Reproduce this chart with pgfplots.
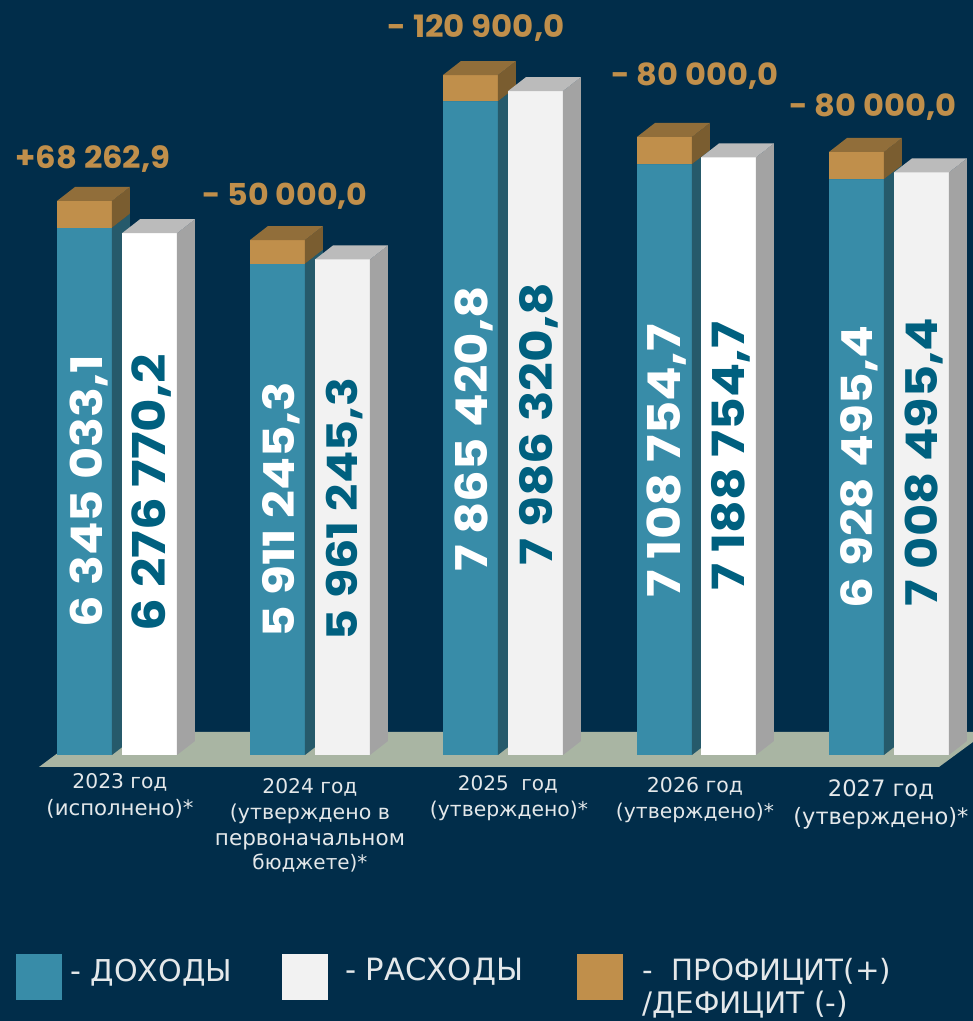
\documentclass[border=0pt]{standalone}
\usepackage{fontspec}
\usepackage{graphicx}
\setmainfont{DejaVu Sans}
\newfontfamily\pop{Poppins}
\usepackage{pgfplots}
\pgfplotsset{compat=1.18}
\definecolor{bg}{HTML}{012D4A}
\definecolor{rev}{HTML}{388CA8}
\definecolor{revs}{HTML}{265A6B}
\definecolor{capf}{HTML}{C08F4B}
\definecolor{capt}{HTML}{916E3A}
\definecolor{caps}{HTML}{7A5D30}
\definecolor{exps}{HTML}{A3A3A3}
\definecolor{expt}{HTML}{BBBBBB}
\definecolor{expf}{HTML}{F2F2F2}
\definecolor{floorc}{HTML}{A9B5A3}
\definecolor{tealt}{HTML}{00607F}
\definecolor{lab}{HTML}{E4E8EA}
\newcommand\cuboid[6]{%
  \addplot[fill=#4,draw=none] coordinates {(#1,#2) (#1+55,#2) (#1+55,#3) (#1,#3)} -- cycle;
  \addplot[fill=#5,draw=none] coordinates {(#1+55,#2) (#1+73,#2+168.42) (#1+73,#3+168.42) (#1+55,#3)} -- cycle;
  \addplot[fill=#6,draw=none] coordinates {(#1,#3) (#1+55,#3) (#1+73,#3+168.42) (#1+18,#3+168.42)} -- cycle;
}
\newcommand\Py[1]{{(755-(#1))*12.03}}
\newcommand\V[5]{\node[rotate=90,inner sep=0pt,text=#4] at (axis cs:#1+2,\Py{#2}) {\scalebox{1}[.88]{\resizebox{#3pt}{!}{\pop\bfseries #5}}};}
\newcommand\G[4]{\node[inner sep=0pt,text=capf] at (axis cs:#1,\Py{#2+2}) {\scalebox{1}[.95]{\resizebox{#3pt}{!}{\pop\bfseries #4}}};}
\newcommand\T[4]{\node[inner sep=0pt,text=lab] at (axis cs:#1,\Py{#2+3}) {\resizebox{#3pt}{!}{\strut #4}};}
\newcommand\TL[4]{\node[inner sep=0pt,anchor=west,text=lab] at (axis cs:#1,\Py{#2+3}) {\resizebox{#3pt}{!}{\strut #4}};}
\begin{document}
\begin{tikzpicture}
\begin{axis}[
  scale only axis,width=973pt,height=1021pt,
  xmin=0,xmax=973,ymin=-3200,ymax=9082.65,
  ticks=none,axis line style={draw=none},
  axis background/.style={fill=bg},
]
% floor
\addplot[fill=floorc,draw=none] coordinates {(39,-144.36) (86,276.69) (973,276.69) (973,156.39) (939,-144.36)} -- cycle;
% 2023
\cuboid{57}{0}{6345.0331}{rev}{revs}{revs}
\cuboid{57}{6345.0331}{6665}{capf}{caps}{capt}
\cuboid{122}{0}{6276.7702}{white}{exps}{expt}
% 2024
\cuboid{250}{0}{5911.2453}{rev}{revs}{revs}
\cuboid{250}{5911.2453}{6195}{capf}{caps}{capt}
\cuboid{315}{0}{5961.2453}{expf}{exps}{expt}
% 2025
\cuboid{443}{0}{7865.4208}{rev}{revs}{revs}
\cuboid{443}{7865.4208}{8180}{capf}{caps}{capt}
\cuboid{508}{0}{7986.3208}{expf}{exps}{expt}
% 2026
\cuboid{637}{0}{7108.7547}{rev}{revs}{revs}
\cuboid{637}{7108.7547}{7435}{capf}{caps}{capt}
\cuboid{701}{0}{7188.7547}{white}{exps}{expt}
% 2027
\cuboid{829}{0}{6928.4954}{rev}{revs}{revs}
\cuboid{829}{6928.4954}{7254}{capf}{caps}{capt}
\cuboid{894}{0}{7008.4954}{expf}{exps}{expt}
% legend swatches
\addplot[fill=rev,draw=none] coordinates {(16,-2394) (62,-2394) (62,-2947) (16,-2947)} -- cycle;
\addplot[fill=expf,draw=none] coordinates {(282,-2394) (328,-2394) (328,-2947) (282,-2947)} -- cycle;
\addplot[fill=capf,draw=none] coordinates {(577,-2394) (623,-2394) (623,-2947) (577,-2947)} -- cycle;
% value labels
\V{87}{491}{273}{white}{6 345 033,1}
\V{150}{493}{277}{tealt}{6 276 770,2}
\V{279}{510}{255}{white}{5 911 245,3}
\V{343}{509}{262}{tealt}{5 961 245,3}
\V{472}{429}{285}{white}{7 865 420,8}
\V{537}{424}{283}{tealt}{7 986 320,8}
\V{665}{461}{273}{white}{7 108 754,7}
\V{729}{456}{268}{tealt}{7 188 754,7}
\V{857}{467}{282}{white}{6 928 495,4}
\V{922}{462}{288}{tealt}{7 008 495,4}
% balance labels
\G{93}{157}{155}{+68 262,9}
\G{285}{194}{165}{- 50 000,0}
\G{476}{26}{177}{- 120 900,0}
\G{695}{74}{167}{- 80 000,0}
\G{873}{105}{167}{- 80 000,0}
% categories
\T{120}{781}{95}{2023 год}
\T{120}{807}{147}{(исполнено)*}
\T{310}{786}{95}{2024 год}
\T{310}{812}{160}{(утверждено в}
\T{310}{837}{190}{первоначальном}
\T{310}{862}{115}{бюджете)*}
\T{508}{783}{100}{2025\ \ год}
\T{509}{809}{158}{(утверждено)*}
\T{695}{785}{96}{2026 год}
\T{695}{811}{158}{(утверждено)*}
\T{881}{788}{106}{2027 год}
\T{881}{816}{175}{(утверждено)*}
% legend text
\TL{70}{971}{162}{- ДОХОДЫ}
\TL{345}{970}{178}{- РАСХОДЫ}
\TL{642}{970}{249}{-\ \ ПРОФИЦИТ(+)}
\node[inner sep=0pt,anchor=west,text=lab] at (axis cs:642,\Py{1005}) {\resizebox{206pt}{!}{/ДЕФИЦИТ (-)}};
\end{axis}
\end{tikzpicture}
\end{document}
